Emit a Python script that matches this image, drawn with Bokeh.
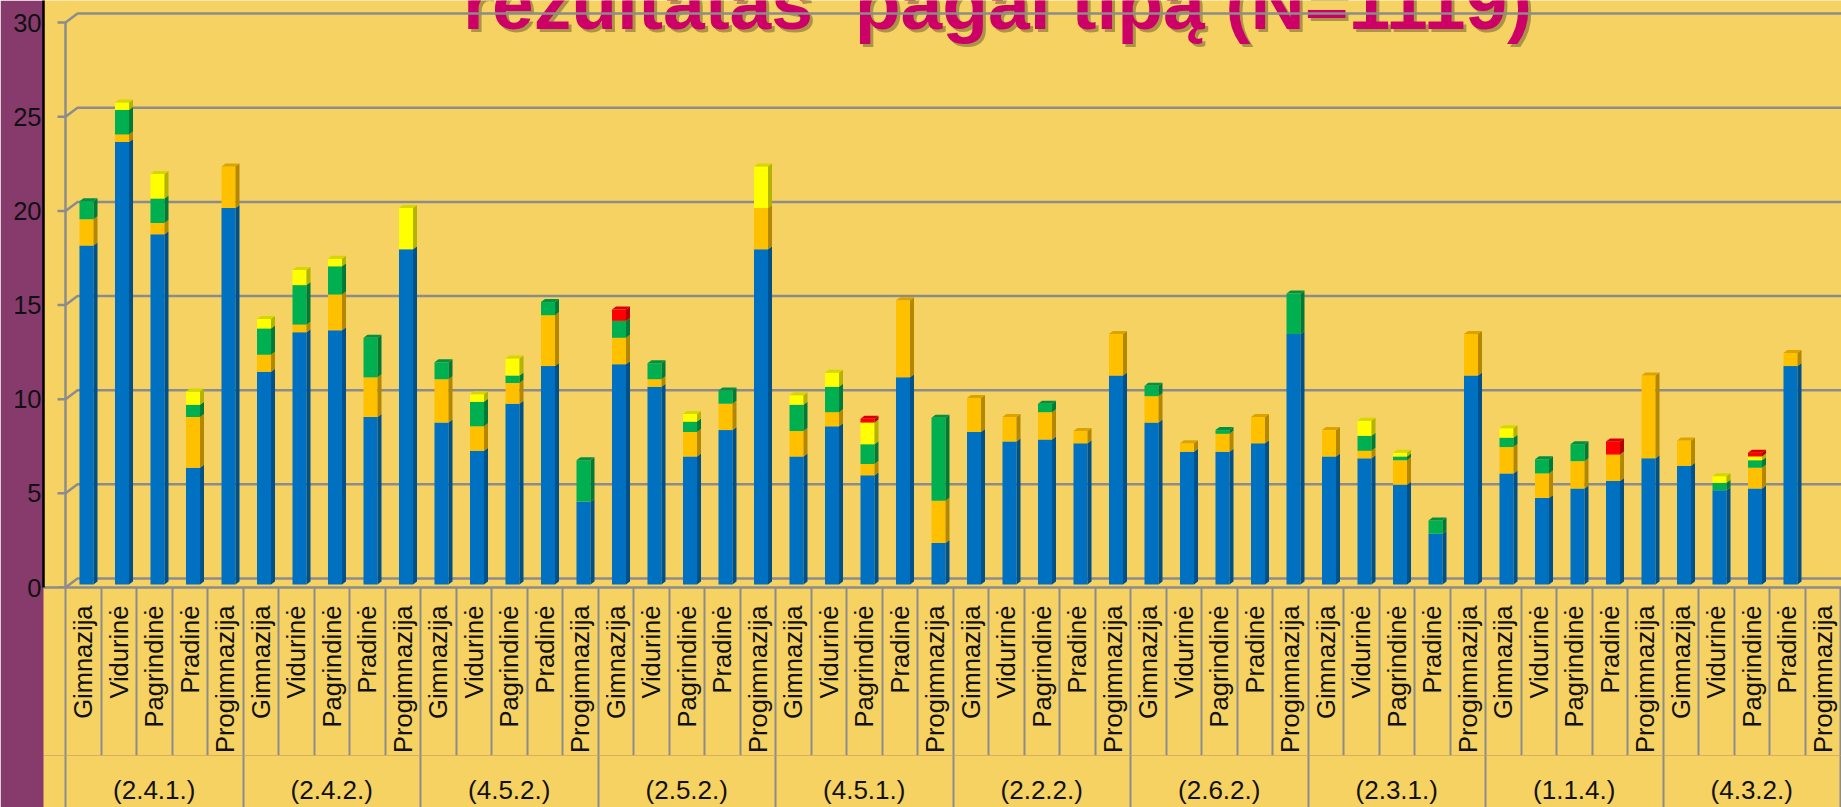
import math
from bokeh.plotting import figure
from bokeh.models import Range1d, LinearAxis, FixedTicker, Label, ColumnDataSource
from bokeh.embed import file_html
from bokeh.resources import INLINE

# ---------------- data ----------------
groups = ["(2.4.1.)", "(2.4.2.)", "(4.5.2.)", "(2.5.2.)", "(4.5.1.)",
          "(2.2.2.)", "(2.6.2.)", "(2.3.1.)", "(1.1.4.)", "(4.3.2.)"]
types = ["Gimnazija", "Vidurinė", "Pagrindinė", "Pradinė", "Progimnazija"]

blue = [18.0, 23.5, 18.6, 6.2, 20.0,
        11.3, 13.4, 13.5, 8.9, 17.8,
        8.6, 7.1, 9.6, 11.6, 4.4,
        11.7, 10.5, 6.8, 8.2, 17.8,
        6.8, 8.4, 5.8, 11.0, 2.2,
        8.1, 7.6, 7.7, 7.5, 11.1,
        8.6, 7.05, 7.05, 7.5, 13.3,
        6.8, 6.7, 5.3, 2.7, 11.1,
        5.9, 4.6, 5.1, 5.5, 6.7,
        6.3, 5.0, 5.1, 11.6, 0.0]
orange = [1.4, 0.4, 0.6, 2.7, 2.2,
          0.9, 0.4, 1.9, 2.1, 0.0,
          2.3, 1.3, 1.1, 2.7, 0.0,
          1.4, 0.4, 1.3, 1.4, 2.2,
          1.35, 0.75, 0.6, 4.1, 2.25,
          1.8, 1.3, 1.45, 0.65, 2.2,
          1.4, 0.45, 0.95, 1.4, 0.0,
          1.4, 0.4, 1.3, 0.0, 2.2,
          1.4, 1.3, 1.45, 1.4, 4.4,
          1.35, 0.0, 1.1, 0.7, 0.0]
green = [0.95, 1.3, 1.3, 0.65, 0.0,
         1.4, 2.1, 1.5, 2.1, 0.0,
         0.9, 1.3, 0.4, 0.7, 2.2,
         0.9, 0.85, 0.55, 0.7, 0.0,
         1.4, 1.35, 1.05, 0.0, 4.4,
         0.0, 0.0, 0.45, 0.0, 0.0,
         0.55, 0.0, 0.2, 0.0, 2.15,
         0.0, 0.8, 0.2, 0.7, 0.0,
         0.5, 0.75, 0.9, 0.0, 0.0,
         0.0, 0.4, 0.4, 0.0, 0.0]
yellow = [0.0, 0.4, 1.3, 0.7, 0.0,
          0.5, 0.8, 0.4, 0.0, 2.2,
          0.0, 0.4, 0.9, 0.0, 0.0,
          0.0, 0.0, 0.4, 0.0, 2.2,
          0.5, 0.75, 1.15, 0.0, 0.0,
          0.0, 0.0, 0.0, 0.0, 0.0,
          0.0, 0.0, 0.0, 0.0, 0.0,
          0.0, 0.8, 0.2, 0.0, 0.0,
          0.5, 0.0, 0.0, 0.0, 0.0,
          0.0, 0.35, 0.2, 0.0, 0.0]
red = [0.0, 0.0, 0.0, 0.0, 0.0,
       0.0, 0.0, 0.0, 0.0, 0.0,
       0.0, 0.0, 0.0, 0.0, 0.0,
       0.6, 0.0, 0.0, 0.0, 0.0,
       0.0, 0.0, 0.2, 0.0, 0.0,
       0.0, 0.0, 0.0, 0.0, 0.0,
       0.0, 0.0, 0.0, 0.0, 0.0,
       0.0, 0.0, 0.0, 0.0, 0.0,
       0.0, 0.0, 0.0, 0.7, 0.0,
       0.0, 0.0, 0.2, 0.0, 0.0]
y_ticks = [0, 5, 10, 15, 20, 25, 30]
title_text = "rezultatas\u00a0 pagal tipą (N=1119)"

series = [blue, orange, green, yellow, red]
front_col = ["#0070C0", "#FFC000", "#00B050", "#FFFF00", "#FF0000"]
side_col = ["#00508A", "#B38700", "#007A38", "#B3B300", "#B30000"]
top_col = ["#005E9E", "#D9A300", "#00903F", "#D6D600", "#D60000"]

# ---------------- layout / style ----------------
W, H = 1841, 807
LEFT = 43
BOTTOM = 220
PX_X = 35.5      # px per category
PX_Y = 18.83     # px per unit
FRAME_H = H - BOTTOM
YELLOW = "#F6D263"
PURPLE = "#873B6D"
GRID = "#8C8C8C"

n = len(blue)
x0 = -0.5 - 22 / PX_X
x1 = x0 + (W - LEFT) / PX_X
y0 = -3 / PX_Y
y1 = y0 + FRAME_H / PX_Y

p = figure(width=W, height=H, x_range=Range1d(x0, x1), y_range=Range1d(y0, y1),
           output_backend="svg", toolbar_location=None,
           x_axis_location=None, y_axis_location=None,
           background_fill_color=YELLOW, border_fill_color=PURPLE,
           outline_line_color=None, min_border=0)
p.min_border_left = LEFT
p.min_border_bottom = BOTTOM
p.grid.visible = False

# front-plane range for the value axis
p.extra_y_ranges = {"front": Range1d(y0 + 3 / PX_Y, y1 + 3 / PX_Y)}

# ---------------- title (behind gridlines) ----------------
tx = (997 - 65) / PX_X - 0.5
ty = (584 - 2.5) / PX_Y
p.add_layout(Label(x=tx, y=ty, x_offset=3, y_offset=-3, text=title_text,
                   text_font="Liberation Sans", text_font_style="bold",
                   text_font_size="75px", text_color="#6E6030", text_alpha=0.55,
                   text_align="center", text_baseline="alphabetic", level="underlay"))
p.add_layout(Label(x=tx, y=ty, text=title_text,
                   text_font="Liberation Sans", text_font_style="bold",
                   text_font_size="75px", text_color="#CC0066",
                   text_align="center", text_baseline="alphabetic", level="underlay"))

# ---------------- 3D walls / gridlines ----------------
FRONT_DY = -3 / PX_Y
BACK_DY = 6 / PX_Y
BACK_DX = 12 / PX_X
xs, ys = [], []
for v in y_ticks:
    xs.append([-0.5 - 8 / PX_X, -0.5, -0.5 + BACK_DX, n + 2])
    ys.append([v + FRONT_DY, v + FRONT_DY, v + BACK_DY, v + BACK_DY])
xs.append([-0.5, -0.5])
ys.append([FRONT_DY, y_ticks[-1] + FRONT_DY])
p.multi_line(xs, ys, line_color=GRID, line_width=2.5)

# ---------------- 3D stacked bars ----------------
FL, FR = -0.106, 0.289
DX, DY = 4 / PX_X, 3 / PX_Y
for s, vals in enumerate(series):
    q = dict(l=[], r=[], b=[], t=[])
    side_x, side_y, top_x, top_y = [], [], [], []
    for i in range(n):
        b = sum(series[k][i] for k in range(s))
        v = vals[i]
        if v <= 0:
            continue
        t = b + v
        L, R = i + FL, i + FR
        q["l"].append(L); q["r"].append(R); q["b"].append(b); q["t"].append(t)
        side_x.append([R, R + DX, R + DX, R])
        side_y.append([b, b + DY, t + DY, t])
        above = sum(series[k][i] for k in range(s + 1, len(series)))
        if above <= 0:
            top_x.append([L, R, R + DX, L + DX])
            top_y.append([t, t, t + DY, t + DY])
    if q["l"]:
        p.quad(left="l", right="r", bottom="b", top="t", source=ColumnDataSource(q),
               fill_color=front_col[s], line_color=None)
        p.patches(side_x, side_y, fill_color=side_col[s], line_color=None)
    if top_x:
        p.patches(top_x, top_y, fill_color=top_col[s], line_color=None)

# ---------------- axes ----------------
yax = LinearAxis(y_range_name="front", ticker=FixedTicker(ticks=y_ticks))
yax.axis_line_color = "black"
yax.axis_line_width = 2.5
yax.major_tick_out = 0
yax.major_tick_in = 0
yax.minor_tick_out = 0
yax.minor_tick_in = 0
yax.major_label_standoff = 2
yax.major_label_text_font = "Liberation Sans"
yax.major_label_text_font_size = "25.5px"
yax.major_label_text_color = "#111111"
p.add_layout(yax, "left")

cat_centers = list(range(n))
cat_labels = {i: types[i % len(types)] for i in range(n)}
xax = LinearAxis(ticker=FixedTicker(ticks=cat_centers,
                                    minor_ticks=[i - 0.5 for i in range(n + 1)]))
xax.major_label_overrides = cat_labels
xax.major_label_orientation = math.pi / 2
xax.major_label_standoff = 18
xax.major_label_text_font = "Liberation Sans"
xax.major_label_text_font_size = "25.5px"
xax.major_label_text_color = "#111111"
xax.major_tick_out = 0
xax.major_tick_in = 0
xax.minor_tick_out = 0
xax.minor_tick_in = -171
xax.minor_tick_line_color = GRID
xax.minor_tick_line_width = 2
xax.axis_line_color = GRID
xax.axis_line_width = 2.5
try:
    xax.background_fill_color = YELLOW
except Exception:
    pass
p.add_layout(xax, "below")

g = len(types)
grp_centers = [k * g + (g - 1) // 2 for k in range(len(groups))]
gax = LinearAxis(ticker=FixedTicker(ticks=grp_centers,
                                    minor_ticks=[k * g - 0.5 for k in range(len(groups) + 1)]))
gax.major_label_overrides = {grp_centers[k]: groups[k] for k in range(len(groups))}
gax.major_label_standoff = 19
gax.major_label_text_font = "Liberation Sans"
gax.major_label_text_font_size = "26px"
gax.major_label_text_color = "#111111"
gax.major_tick_out = 0
gax.major_tick_in = 0
gax.minor_tick_out = 0
gax.minor_tick_in = -80
gax.minor_tick_line_color = GRID
gax.minor_tick_line_width = 2
gax.axis_line_color = None
try:
    gax.background_fill_color = YELLOW
except Exception:
    pass
p.add_layout(gax, "below")

open("out.html", "w").write(file_html(p, INLINE))
